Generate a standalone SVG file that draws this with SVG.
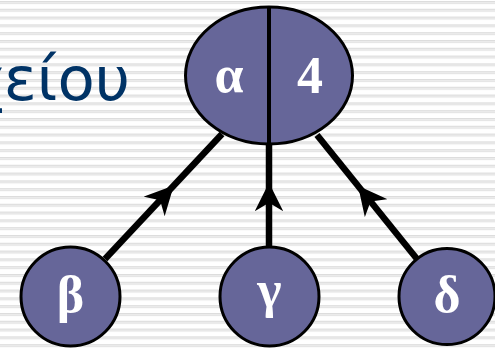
<svg xmlns="http://www.w3.org/2000/svg" width="495" height="348" viewBox="0 0 495 348">
  <defs>
    <pattern id="stripes" x="0" y="0" width="10" height="7.8" patternUnits="userSpaceOnUse">
      <rect x="0" y="0" width="10" height="7.8" fill="#ffffff"/>
      <rect x="0" y="1" width="10" height="1" fill="#dcdcdc"/>
      <rect x="0" y="2" width="10" height="1" fill="#ececec"/>
      <rect x="0" y="3" width="10" height="1" fill="#e2e2e2"/>
    </pattern>
    <marker id="arr" viewBox="0 0 10 10" refX="5" refY="5" markerWidth="4.4" markerHeight="4.4" orient="auto" markerUnits="strokeWidth">
      <path d="M0,0 L10,5 L0,10 L3,5 Z" fill="#000"/>
    </marker>
    <style>
      .node { fill: #666699; stroke: #000; stroke-width: 3; }
      .lbl { font-family: "Liberation Serif", "DejaVu Serif", serif; font-weight: bold; font-size: 52px; fill: #ffffff; text-anchor: middle; }
      .edge { stroke: #000; stroke-width: 6.5; fill: none; }
      .title { font-family: "DejaVu Sans", "Noto Sans", sans-serif; font-size: 61px; fill: #003366; text-anchor: end; }
    </style>
  </defs>
  <rect x="0" y="0" width="495" height="348" fill="url(#stripes)"/>
  <text class="title" x="130" y="100">χείου</text>

  <g id="connectors">
    <path class="edge" d="M105,259 L164,196" marker-end="url(#arr)"/>
    <path class="edge" d="M164,196 L222,134"/>
    <path class="edge" d="M269,246 L269,197" marker-end="url(#arr)"/>
    <path class="edge" d="M269,197 L269,145"/>
    <path class="edge" d="M417,259 L367,197" marker-end="url(#arr)"/>
    <path class="edge" d="M367,197 L317,135"/>
  </g>

  <g id="node-root">
    <ellipse class="node" cx="269" cy="75.5" rx="83.5" ry="68.5"/>
    <line x1="269" y1="7" x2="269" y2="144" stroke="#000" stroke-width="4"/>
    <text class="lbl" x="229" y="92">α</text>
    <text class="lbl" x="310" y="93">4</text>
  </g>
  <g id="node-beta">
    <circle class="node" cx="70.5" cy="296.5" r="49.5"/>
    <text class="lbl" x="70.5" y="312">β</text>
  </g>
  <g id="node-gamma">
    <circle class="node" cx="269.5" cy="296.5" r="49.5"/>
    <text class="lbl" x="269.5" y="307">γ</text>
  </g>
  <g id="node-delta">
    <circle class="node" cx="447" cy="296.5" r="48"/>
    <text class="lbl" x="447" y="312">δ</text>
  </g>
</svg>
